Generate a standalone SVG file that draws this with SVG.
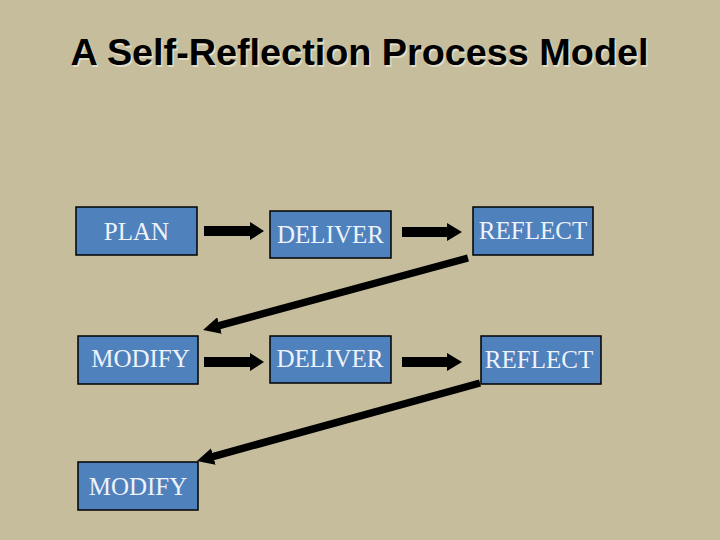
<svg xmlns="http://www.w3.org/2000/svg" width="720" height="540" viewBox="0 0 720 540">
  <defs>
    <style>
      .box { fill: #4f81bd; stroke: #000; stroke-width: 1.5; }
      .lbl { font-family: "Liberation Serif", "Times New Roman", serif; font-size: 25px; fill: #eef2fa; text-anchor: middle; }
      .title { font-family: "Liberation Sans", Arial, sans-serif; font-weight: bold; font-size: 37px; }
      .diag { stroke: #000; stroke-width: 7.5; fill: none; marker-end: url(#head); }
      .harrow { fill: #000; }
    </style>
    <marker id="head" markerUnits="userSpaceOnUse" markerWidth="17" markerHeight="17" refX="7" refY="8.5" orient="auto">
      <path d="M0,0 L17,8.5 L0,17 z" fill="#000"/>
    </marker>
  </defs>
  <rect width="720" height="540" fill="#c5bd9b"/>
  <g id="title">
    <text class="title" x="72" y="66.5" fill="#e2ddc9" textLength="578" lengthAdjust="spacingAndGlyphs">A Self-Reflection Process Model</text>
    <text class="title" x="70.5" y="65" fill="#000" textLength="578" lengthAdjust="spacingAndGlyphs">A Self-Reflection Process Model</text>
  </g>
  <g id="connectors">
    <polygon class="harrow" points="204,226 250,226 250,222 264,231 250,240 250,236 204,236"/>
    <polygon class="harrow" points="402,227 447,227 447,223 462,232 447,241 447,237 402,237"/>
    <polygon class="harrow" points="204,357 250,357 250,353 264,362 250,371 250,367 204,367"/>
    <polygon class="harrow" points="402,357 447,357 447,353 462,362 447,371 447,367 402,367"/>
    <line class="diag" x1="468" y1="258" x2="212.7" y2="327.4"/>
    <line class="diag" x1="480" y1="383" x2="206.6" y2="458.3"/>
  </g>
  <g id="plan">
    <rect class="box" x="76" y="207" width="121" height="48"/>
    <text class="lbl" x="136.5" y="240">PLAN</text>
  </g>
  <g id="deliver1">
    <rect class="box" x="270" y="211" width="121" height="47"/>
    <text class="lbl" x="330.5" y="243">DELIVER</text>
  </g>
  <g id="reflect1">
    <rect class="box" x="473" y="207" width="120" height="48"/>
    <text class="lbl" x="533" y="239">REFLECT</text>
  </g>
  <g id="modify1">
    <rect class="box" x="78" y="336" width="120" height="48"/>
    <text class="lbl" x="140.5" y="367">MODIFY</text>
  </g>
  <g id="deliver2">
    <rect class="box" x="270" y="336" width="121" height="47"/>
    <text class="lbl" x="330" y="367">DELIVER</text>
  </g>
  <g id="reflect2">
    <rect class="box" x="481" y="336" width="120" height="48"/>
    <text class="lbl" x="539" y="368">REFLECT</text>
  </g>
  <g id="modify2">
    <rect class="box" x="78" y="462" width="120" height="48"/>
    <text class="lbl" x="138" y="495">MODIFY</text>
  </g>
</svg>
